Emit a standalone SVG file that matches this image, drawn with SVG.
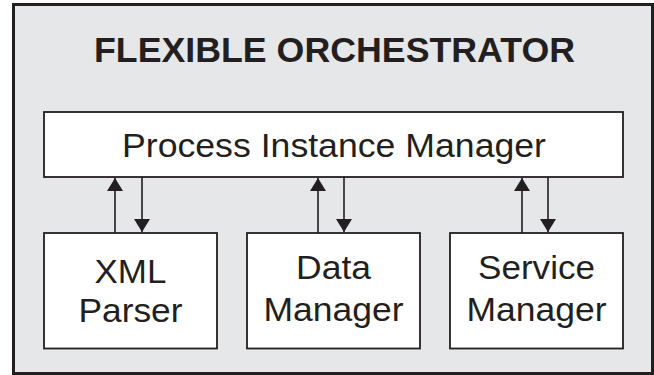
<svg xmlns="http://www.w3.org/2000/svg" width="654" height="375" viewBox="0 0 654 375">
  <defs>
    <marker id="ah" viewBox="0 0 13 16" refX="13" refY="8" markerWidth="13" markerHeight="16" markerUnits="userSpaceOnUse" orient="auto">
      <path d="M0,0 L13,8 L0,16 z" fill="#231f20"/>
    </marker>
    <style>
      .box { fill: #ffffff; stroke: #231f20; stroke-width: 1.8; }
      .lbl { font-family: "Liberation Sans", Arial, sans-serif; font-size: 33px; fill: #231f20; text-anchor: middle; }
      .title { font-family: "Liberation Sans", Arial, sans-serif; font-size: 35px; font-weight: bold; fill: #231f20; text-anchor: middle; }
      .conn line { stroke: #231f20; stroke-width: 1.6; marker-end: url(#ah); }
    </style>
  </defs>

  <g id="orchestrator">
    <rect x="13.5" y="4.5" width="639" height="369" fill="#e6e7e8" stroke="#231f20" stroke-width="3"/>
    <text class="title" x="334.5" y="62" textLength="481" lengthAdjust="spacingAndGlyphs">FLEXIBLE ORCHESTRATOR</text>
  </g>

  <g id="process-instance-manager">
    <rect class="box" x="44" y="112" width="579" height="65"/>
    <text class="lbl" x="334" y="156.5" textLength="424" lengthAdjust="spacingAndGlyphs">Process Instance Manager</text>
  </g>

  <g id="xml-parser">
    <rect class="box" x="44" y="233" width="173" height="115.5"/>
    <text class="lbl" x="130.5" y="283" textLength="72" lengthAdjust="spacingAndGlyphs">XML</text>
    <text class="lbl" x="130.5" y="322" textLength="104" lengthAdjust="spacingAndGlyphs">Parser</text>
  </g>

  <g id="data-manager">
    <rect class="box" x="247" y="233" width="173" height="115.5"/>
    <text class="lbl" x="333.5" y="279" textLength="75" lengthAdjust="spacingAndGlyphs">Data</text>
    <text class="lbl" x="333.5" y="320.5" textLength="140" lengthAdjust="spacingAndGlyphs">Manager</text>
  </g>

  <g id="service-manager">
    <rect class="box" x="450" y="233" width="173" height="115.5"/>
    <text class="lbl" x="536.5" y="279" textLength="117" lengthAdjust="spacingAndGlyphs">Service</text>
    <text class="lbl" x="536.5" y="320.5" textLength="140" lengthAdjust="spacingAndGlyphs">Manager</text>
  </g>

  <g id="connectors" class="conn">
    <line x1="115" y1="233" x2="115" y2="178"/>
    <line x1="142" y1="177" x2="142" y2="232"/>
    <line x1="318" y1="233" x2="318" y2="178"/>
    <line x1="344" y1="177" x2="344" y2="232"/>
    <line x1="522" y1="233" x2="522" y2="178"/>
    <line x1="548" y1="177" x2="548" y2="232"/>
  </g>
</svg>
